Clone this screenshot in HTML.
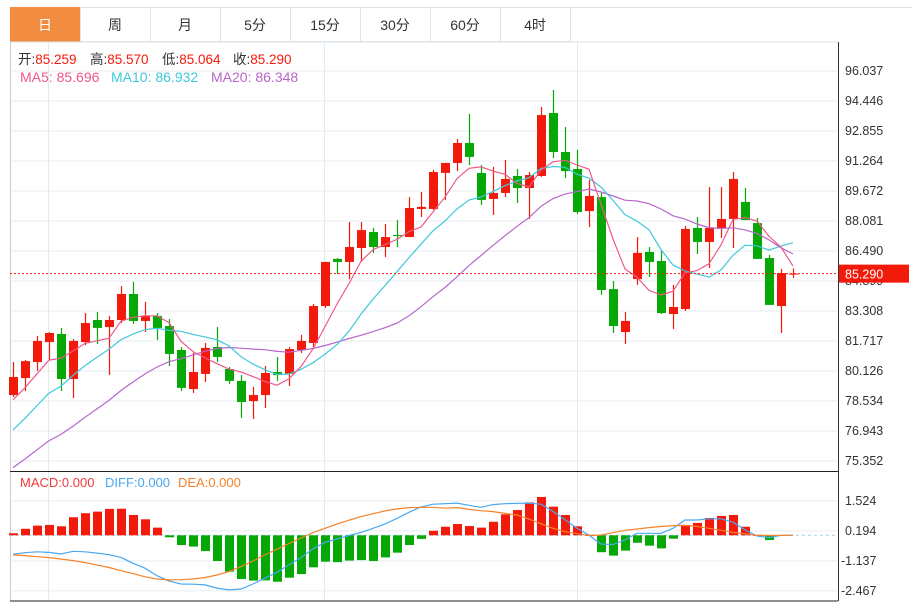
<!DOCTYPE html>
<html><head><meta charset="utf-8"><style>
html,body{margin:0;padding:0;background:#fff;width:916px;height:602px;overflow:hidden;font-family:"Liberation Sans","Noto Sans CJK SC",sans-serif}
svg{position:absolute;left:0;top:0}
</style></head><body>
<svg id="c" width="916" height="602" viewBox="0 0 916 602" xmlns="http://www.w3.org/2000/svg"></svg>
<script>
const opens=[78.85,79.75,80.60,81.66,82.09,79.70,81.66,82.83,82.46,82.83,84.21,82.78,83.04,82.51,81.24,79.17,79.97,81.40,80.23,79.60,78.53,78.85,80.07,79.97,81.24,81.61,83.57,86.07,85.91,86.65,87.50,86.70,87.34,87.23,88.72,88.72,90.63,91.16,92.22,90.63,89.25,89.57,90.47,89.83,90.47,93.81,91.74,90.84,88.61,89.35,84.47,82.19,85.00,86.44,85.96,83.15,83.41,87.71,86.97,87.71,88.19,89.09,87.97,86.12,83.57,85.259];
const highs=[80.60,80.71,81.98,82.19,82.41,81.82,83.20,83.25,83.04,84.63,84.85,83.79,83.20,82.88,81.40,81.08,81.61,82.46,80.34,79.91,79.28,80.39,80.87,81.40,82.04,83.68,85.91,86.12,88.03,88.03,87.71,87.92,88.13,89.35,89.62,90.79,91.16,92.43,93.76,91.05,90.95,91.32,90.84,90.68,94.13,95.03,93.07,91.85,90.26,89.57,84.90,83.25,87.23,86.70,86.49,84.69,87.82,88.29,89.88,89.88,90.68,89.83,88.24,86.28,85.54,85.570];
const lows=[78.75,79.06,80.13,80.71,79.06,78.69,81.50,81.56,79.91,82.67,82.62,82.19,81.77,80.39,79.06,78.96,79.54,80.60,79.44,77.63,77.58,78.16,79.60,79.33,81.08,81.40,83.47,85.27,85.00,85.91,86.39,86.17,86.70,87.23,88.29,88.67,89.20,90.73,91.05,88.93,88.40,89.35,89.04,88.19,90.42,91.42,90.36,88.45,87.76,84.16,82.14,81.56,84.69,85.11,83.15,82.35,83.31,86.33,85.59,87.18,86.65,88.13,86.07,83.63,82.14,85.064];
const closes=[79.81,80.65,81.72,82.14,79.70,81.72,82.67,82.41,82.83,84.21,82.78,83.04,82.41,81.03,79.23,80.07,81.35,80.87,79.60,78.48,78.85,80.02,79.91,81.29,81.72,83.57,85.91,85.91,86.70,87.60,86.70,87.23,87.29,88.77,88.83,90.68,91.16,92.22,91.48,89.20,89.57,90.31,89.83,90.52,93.70,91.74,90.73,88.56,89.41,84.42,82.51,82.78,86.39,85.91,83.20,83.52,87.66,86.97,87.71,88.19,90.31,88.13,86.07,83.63,85.32,85.290];
const priorCloses=[71.5,72,72.5,73,73,73.2,73.5,73.8,73.7,73.8,74.5,75,75.5,76,76,77.5,78,78.5,79.2];
const macdHist=[0.09,0.29,0.43,0.46,0.40,0.80,0.98,1.05,1.17,1.18,0.90,0.71,0.34,-0.09,-0.43,-0.50,-0.70,-1.14,-1.61,-1.94,-2.01,-2.00,-2.06,-1.88,-1.72,-1.42,-1.17,-1.19,-1.12,-1.10,-1.14,-0.98,-0.77,-0.43,-0.16,0.20,0.38,0.50,0.41,0.34,0.60,0.93,1.12,1.46,1.70,1.27,0.90,0.40,0.02,-0.75,-0.90,-0.68,-0.33,-0.46,-0.58,-0.15,0.46,0.55,0.77,0.86,0.90,0.38,0.02,-0.21];
const diffVals=[-0.84,-0.77,-0.73,-0.76,-0.83,-0.71,-0.73,-0.79,-0.86,-0.98,-1.24,-1.46,-1.79,-2.03,-2.16,-2.17,-2.20,-2.34,-2.42,-2.38,-2.16,-1.90,-1.64,-1.31,-0.99,-0.60,-0.31,-0.16,-0.01,0.13,0.31,0.50,0.75,1.02,1.26,1.38,1.40,1.43,1.33,1.24,1.36,1.40,1.42,1.43,1.38,1.06,0.69,0.31,0.01,-0.39,-0.41,-0.21,0.09,0.09,0.09,0.31,0.68,0.68,0.73,0.73,0.58,0.24,-0.03,-0.10,0,0];
const deaVals=[-0.87,-0.90,-0.95,-0.99,-1.05,-1.12,-1.21,-1.32,-1.43,-1.57,-1.70,-1.84,-1.94,-1.98,-1.97,-1.94,-1.87,-1.76,-1.61,-1.39,-1.14,-0.87,-0.61,-0.37,-0.12,0.12,0.31,0.50,0.67,0.83,0.96,1.08,1.17,1.23,1.24,1.24,1.20,1.23,1.15,1.09,1.05,0.97,0.90,0.72,0.51,0.31,0.16,0.07,0.00,0.01,0.12,0.22,0.28,0.34,0.39,0.43,0.44,0.39,0.31,0.22,0.13,0.06,0,-0.01,0,0];
const priceTicks=[96.037,94.446,92.855,91.264,89.672,88.081,86.490,84.899,83.308,81.717,80.126,78.534,76.943,75.352];
const macdTicks=[1.524,0.194,-1.137,-2.467];
const tabs=["日","周","月","5分","15分","30分","60分","4时"];

const NS="http://www.w3.org/2000/svg";
const svg=document.getElementById('c');
function mk(tag,attrs,name,parent){const e=document.createElementNS(NS,tag);for(const k in attrs)e.setAttribute(k,attrs[k]);


(parent||svg).appendChild(e);return e;}
const xOf=i=>13+12*i;
const yP=p=>71+(96.037-p)*18.854;
const yM=v=>535.3-v*22.55;
const RED="#f21a0a",GREEN="#06a806";

mk('line',{x1:10,y1:7.5,x2:912,y2:7.5,stroke:"#dde3ea"},'tab-top-border');
tabs.forEach((t,i)=>{const g=mk('g',{},'tab-'+t);

mk('rect',{x:10+70*i+0.5,y:7.5,width:70,height:34,fill:i==0?"#f28c40":"#fff",stroke:i==0?"#f28c40":"#dde3ea"},'tab-bg',g);
const tx=mk('text',{x:45+70*i,y:30,'text-anchor':'middle','font-size':14,fill:i==0?"#fff":"#333"},'tab-label',g);tx.textContent=t;});
mk('line',{x1:10,y1:42,x2:838,y2:42,stroke:"#dde3ea"},'chart-top-border');

priceTicks.forEach(t=>{mk('line',{x1:10,x2:838,y1:yP(t),y2:yP(t),stroke:"#e6ecf2"},'price-grid-line');});
macdTicks.forEach(t=>{mk('line',{x1:10,x2:838,y1:yM(t),y2:yM(t),stroke:"#e6ecf2"},'macd-grid-line');});
[48,324,577].forEach(x=>{mk('line',{x1:x+0.5,x2:x+0.5,y1:42,y2:601,stroke:"#e2eaf2"},'vertical-grid-line');});
mk('line',{x1:10.5,x2:10.5,y1:42,y2:601,stroke:"#ccc"},'left-border');
mk('line',{x1:838.5,x2:838.5,y1:42,y2:601,stroke:"#333"},'y-axis-line');
mk('line',{x1:10,x2:838,y1:471.5,y2:471.5,stroke:"#222"},'panel-divider');
mk('line',{x1:10,x2:838,y1:601,y2:601,stroke:"#222"},'bottom-border');

function ma(n){const all=priorCloses.concat(closes);const off=priorCloses.length;return closes.map((c,i)=>{let s=0;for(let k=0;k<n;k++)s+=all[off+i-k];return s/n;});}
function poly(vals,yf,color,name){mk('polyline',{points:vals.map((v,i)=>xOf(i)+','+yf(v).toFixed(1)).join(' '),fill:'none',stroke:color,'stroke-width':1.2},name);}

closes.forEach((c,i)=>{const o=opens[i],up=c>=o,col=up?RED:GREEN,x=xOf(i);
const g=mk('g',{},'candle-'+(i+1));
mk('line',{x1:x+0.5,x2:x+0.5,y1:yP(highs[i]),y2:yP(lows[i]),stroke:col,'stroke-width':1.2},'candle-wick',g);
const top=yP(Math.max(o,c)),h=Math.max(1,Math.abs(yP(o)-yP(c)));
mk('rect',{x:x-4,y:top,width:9,height:h,fill:col},'candle-body',g);});
poly(ma(20),yP,"#b866cc",'ma20-line');
poly(ma(10),yP,"#40c8dc",'ma10-line');
poly(ma(5),yP,"#f0588a",'ma5-line');

const lp=closes[closes.length-1];
mk('line',{x1:10,x2:838,y1:yP(lp),y2:yP(lp),stroke:RED,'stroke-dasharray':'2,2'},'last-price-line');

priceTicks.forEach(t=>{const e=mk('text',{x:845,y:yP(t)+4,'font-size':12.5,fill:'#333'},'price-tick-label');e.textContent=t.toFixed(3);});
mk('rect',{x:839,y:yP(lp)-9,width:70,height:18,fill:RED},'last-price-box');
const lt=mk('text',{x:845,y:yP(lp)+5,'font-size':12.5,fill:'#fff'},'last-price-label');lt.textContent=lp.toFixed(3);

mk('line',{x1:10,x2:838,y1:yM(0),y2:yM(0),stroke:"#9fd4f0",'stroke-dasharray':'3,3'},'macd-zero-line');
macdHist.forEach((v,i)=>{const y0=yM(0),y1=yM(v);mk('rect',{x:xOf(i)-4,y:Math.min(y0,y1),width:9,height:Math.max(1,Math.abs(y1-y0)),fill:v>=0?RED:GREEN},'macd-bar-'+(i+1));});
poly(diffVals,yM,"#4aa8f0",'diff-line');
poly(deaVals,yM,"#f5822a",'dea-line');
macdTicks.forEach(t=>{const e=mk('text',{x:t<0?841:845,y:yM(t)+4,'font-size':12.5,fill:'#333'},'macd-tick-label');e.textContent=t.toFixed(3);});

function item(x,y,size,label,lc,val,vc,name){const e=mk('text',{x:x,y:y,'font-size':size},name);
const a=document.createElementNS(NS,'tspan');a.setAttribute('fill',lc);a.textContent=label;e.appendChild(a);
const b=document.createElementNS(NS,'tspan');b.setAttribute('fill',vc);b.textContent=val;e.appendChild(b);}
item(18,64,13.5,"开:","#333","85.259",RED,'open-legend');
item(90,64,13.5,"高:","#333","85.570",RED,'high-legend');
item(162,64,13.5,"低:","#333","85.064",RED,'low-legend');
item(233,64,13.5,"收:","#333","85.290",RED,'close-legend');
item(20,82,14,"MA5: ","#f0588a","85.696","#f0588a",'ma5-legend');
item(111,82,14,"MA10: ","#40c8dc","86.932","#40c8dc",'ma10-legend');
item(211,82,14,"MA20: ","#b866cc","86.348","#b866cc",'ma20-legend');
item(20,487,13,"MACD:","#f03a3a","0.000","#f03a3a",'macd-legend');
item(105,487,13,"DIFF:","#4aa8f0","0.000","#4aa8f0",'diff-legend');
item(178,487,13,"DEA:","#f5822a","0.000","#f5822a",'dea-legend');
</script>
</body></html>
